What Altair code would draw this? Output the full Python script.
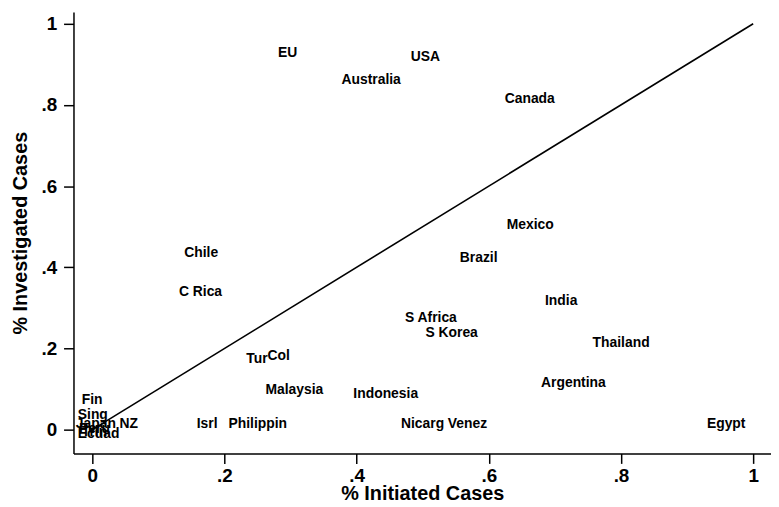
import altair as alt
import pandas as pd

countries = ["EU", "USA", "Australia", "Canada", "Mexico", "Brazil", "Chile", "C Rica",
             "India", "S Africa", "S Korea", "Thailand", "Tur", "Col", "Malaysia",
             "Indonesia", "Argentina", "Isrl", "Philippin", "Nicarg", "Venez", "Egypt",
             "NZ", "Fin", "Sing", "Japan", "Peru", "Trin", "Ecuad"]
initiated = [0.281, 0.482, 0.377, 0.624, 0.627, 0.556, 0.139, 0.131,
             0.685, 0.473, 0.504, 0.757, 0.233, 0.265, 0.262,
             0.395, 0.679, 0.158, 0.206, 0.467, 0.538, 0.930,
             0.041, -0.016, -0.022, -0.025, -0.020, -0.016, -0.022]
investigated = [0.927, 0.917, 0.861, 0.814, 0.504, 0.423, 0.435, 0.340,
                0.318, 0.276, 0.237, 0.213, 0.174, 0.181, 0.098,
                0.088, 0.115, 0.015, 0.015, 0.015, 0.015, 0.015,
                0.015, 0.073, 0.037, 0.015, 0.002, -0.006, -0.010]

line_x = [0, 1]
line_y = [0, 1]

pts = pd.DataFrame({"country": countries, "init": initiated, "inv": investigated})
diag = pd.DataFrame({"init": line_x, "inv": line_y})

FONT = "Liberation Sans"
tick_vals = [0, 0.2, 0.4, 0.6, 0.8, 1]
lab_expr = "datum.value == 0 ? '0' : datum.value == 1 ? '1' : replace(format(datum.value, '.1f'), '0.', '.')"

xscale = alt.Scale(domain=[-0.0285, 1.027], nice=False, zero=False)
yscale = alt.Scale(domain=[-0.0587, 1.029], nice=False, zero=False)

xaxis = alt.Axis(values=tick_vals, labelExpr=lab_expr, title="% Initiated Cases",
                 grid=False, domainColor="black", tickColor="black", tickSize=10,
                 tickWidth=1.5, domainWidth=1.5,
                 labelFont=FONT, labelFontSize=19, labelFontWeight="bold", labelColor="black",
                 labelPadding=3, titleFont=FONT, titleFontSize=20, titleFontWeight="bold",
                 titleColor="black", titleBaseline="middle", titleY=40)
yaxis = alt.Axis(values=tick_vals, labelExpr=lab_expr, title="% Investigated Cases",
                 grid=False, domainColor="black", tickColor="black", tickSize=10,
                 tickWidth=1.5, domainWidth=1.5,
                 labelFont=FONT, labelFontSize=19, labelFontWeight="bold", labelColor="black",
                 labelPadding=7, titleFont=FONT, titleFontSize=20, titleFontWeight="bold",
                 titleColor="black", titleBaseline="middle", titleX=-53)

line = alt.Chart(diag).mark_line(color="black", strokeWidth=1.6).encode(
    x=alt.X("init:Q", scale=xscale, axis=xaxis),
    y=alt.Y("inv:Q", scale=yscale, axis=yaxis),
)

labels = alt.Chart(pts).mark_text(align="left", baseline="middle", font=FONT,
                                  fontSize=14, fontWeight="bold", color="black").encode(
    x=alt.X("init:Q", scale=xscale),
    y=alt.Y("inv:Q", scale=yscale),
    text="country:N",
)

chart = (line + labels).properties(
    width=703, height=445,
    autosize=alt.AutoSizeParams(type="none"),
    padding={"left": 66, "top": 2, "right": 0, "bottom": 52},
).configure_view(stroke=None)

chart.save("out.html", embed_options={"renderer": "svg", "actions": False})
